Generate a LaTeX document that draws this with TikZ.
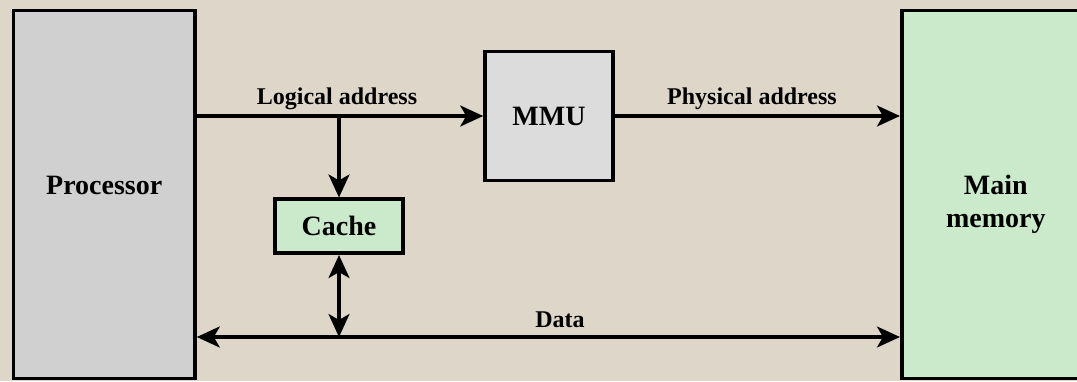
\documentclass[tikz,border=0pt]{standalone}
\usepackage{fontspec}
\setmainfont{Liberation Serif}
\usepackage{tikz}
\usetikzlibrary{positioning}
\usetikzlibrary{arrows.meta}

\definecolor{paper}{RGB}{222,214,201}
\definecolor{procgray}{RGB}{208,208,208}
\definecolor{mmugray}{RGB}{220,220,220}
\definecolor{memgreen}{RGB}{203,234,203}

\tikzset{
    unit/.style={draw=black, line width=1.8pt, inner sep=0pt, align=center,
        font=\bfseries\fontsize{14}{16.5}\selectfont},
    bus/.style={line width=1.6pt},
    buslabel/.style={inner sep=0pt, anchor=base,
        font=\bfseries\fontsize{12}{14}\selectfont},
    >={Stealth[length=11.5pt,width=10.5pt,inset=3pt]}
}

\begin{document}
\begin{tikzpicture}[x=0.5pt,y=-0.5pt]
    % Paper of the picture (1077 x 381 units)
    \useasboundingbox (0,0) rectangle (1077,381);
    \clip (0,0) rectangle (1077,381);
    \fill[paper] (0,0) rectangle (1077,381);
    
    % The four units
    \node[unit, fill=procgray, minimum width=90.75pt, minimum height=184pt, text depth=9pt] (proc) at (104.25,194.5) {Processor};
    \node[unit, fill=mmugray, minimum width=64pt, minimum height=64.5pt] (mmu) at (549,116) {MMU};
    \node[unit, fill=memgreen, minimum width=64pt, minimum height=27pt] (cache) at (339,226.25) {Cache};
    \node[unit, fill=memgreen, minimum width=94pt, minimum height=184pt] (mem) at (995.75,194.5) {\rule{0pt}{19.5pt}Main\\memory};
    
    \coordinate (dline) at (0,337); % Height of the data bus
    \coordinate (split) at (cache.north |- mmu.west); % Branch towards the cache
    
    % Address path
    \draw[bus,->] (proc.east |- mmu.west) -- (mmu.west);
    \draw[bus,->] (split) -- (cache.north);
    \draw[bus,->] (mmu.east) -- (mem.west |- mmu.east);
    
    % Data path
    \draw[bus,<->] (proc.east |- dline) -- (mem.west |- dline);
    \draw[bus,<->] (cache.south) -- (cache.south |- dline);
    
    % Bus labels
    \node[buslabel] (logaddr) at (337,104) {Logical address};
    \node[buslabel] (physaddr) at (752,104) {Physical address};
    \node[buslabel] (data) at (560,327) {Data};
\end{tikzpicture}
\end{document}
